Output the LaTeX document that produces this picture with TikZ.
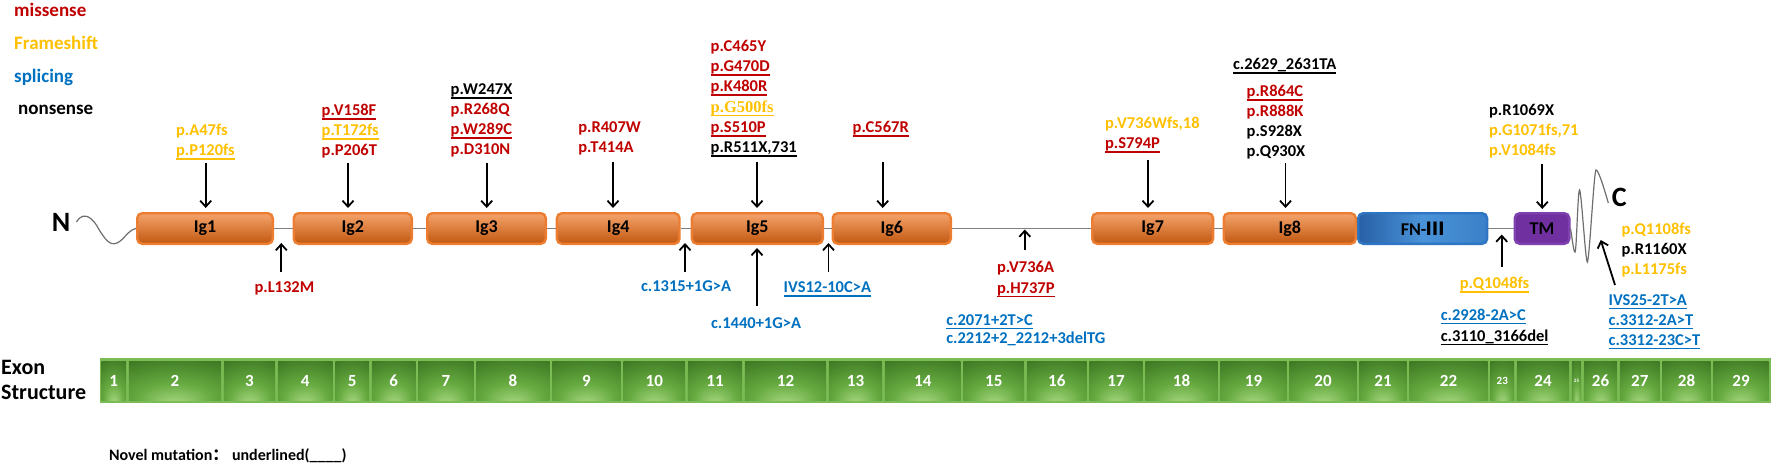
\documentclass[tikz,border=0pt]{standalone}
\usepackage{fontspec}
\setmainfont{Carlito}
\newfontfamily\tnr{Liberation Serif}
\newfontfamily\cjk{Noto Sans CJK SC}
\usetikzlibrary{arrows.meta}
\definecolor{mred}{HTML}{C00000}
\definecolor{myel}{HTML}{FFC000}
\definecolor{mblu}{HTML}{0070C0}
\definecolor{orL}{HTML}{F4A46C}
\definecolor{orD}{HTML}{C2570F}
\definecolor{orB}{HTML}{ED7D31}
\definecolor{fnL}{HTML}{2860A6}
\definecolor{fnM}{HTML}{4A93D8}
\definecolor{fnR}{HTML}{3A80C8}
\definecolor{fnB}{HTML}{2E75C4}
\definecolor{tmF}{HTML}{7030A0}
\definecolor{tmB}{HTML}{7F40B0}
\definecolor{exL}{HTML}{A8D882}
\definecolor{exM}{HTML}{66AA40}
\definecolor{exD}{HTML}{3A7420}
\definecolor{exO}{HTML}{7CBC55}
\definecolor{lnk}{HTML}{808080}
\definecolor{wav}{HTML}{6E6E6E}
\pgfdeclareradialshading{exshade}{\pgfpoint{0bp}{-30bp}}{color(0bp)=(exL); color(20bp)=(exM); color(48bp)=(exD); color(80bp)=(exD)}
\newcommand\myul[1]{\setbox0\hbox{#1}\rlap{\raisebox{-4.3pt}{\rule{\wd0}{1.4pt}}}\box0}
\newcommand\lf{\fontsize{16.5}{20}\selectfont\bfseries}
\newcommand\boxf{\fontsize{18}{20}\selectfont\bfseries}
\begin{document}
\begin{tikzpicture}[x=1pt,y=-1pt,
  lab/.style={anchor=base west, inner sep=0pt, outer sep=0pt, font=\lf},
  leg/.style={anchor=base west, inner sep=0pt, font=\fontsize{19}{22}\selectfont\bfseries},
  big/.style={anchor=base west, inner sep=0pt, font=\fontsize{28}{30}\selectfont\bfseries},
  exlab/.style={anchor=base west, inner sep=0pt, font=\fontsize{22}{24}\selectfont\bfseries},
  igbox/.style={rectangle, rounded corners=5pt, draw=orB, line width=2.4pt, top color=orL, bottom color=orD, minimum height=30.6pt, inner sep=0pt, font=\boxf},
  arr/.style={line width=1.8pt, -{Straight Barb[length=6pt,width=11pt]}},
  lnkline/.style={draw=lnk, line width=1.6pt},
  wave/.style={draw=wav, line width=1.2pt},
  exon/.style={rectangle, inner sep=0pt, shade, shading=exshade, minimum height=38.5pt, text=white}
]
\useasboundingbox (0,0) rectangle (1772,464);

% legend
\node[leg, text=mred] (lg1) at (14,16.5) {missense};
\node[leg, text=myel] (lg2) at (14,49) {Frameshift};
\node[leg, text=mblu] (lg3) at (14,82) {splicing};
\node[leg, text=black] (lg4) at (18,114.5) {nonsense};

% domains
\node[igbox, minimum width=135.6pt] (ig1) at (205,228.5) {Ig1};
\node[igbox, minimum width=118.1pt] (ig2) at (352.75,228.5) {Ig2};
\node[igbox, minimum width=118.6pt] (ig3) at (486.5,228.5) {Ig3};
\node[igbox, minimum width=122.6pt] (ig4) at (618.2,228.5) {Ig4};
\node[igbox, minimum width=130.9pt] (ig5) at (757.35,228.5) {Ig5};
\node[igbox, minimum width=118.1pt] (ig6) at (891.75,228.5) {Ig6};
\node[igbox, minimum width=120.9pt] (ig7) at (1152.65,228.5) {Ig7};
\node[igbox, minimum width=132.1pt] (ig8) at (1289.75,228.5) {Ig8};
\node[rectangle, rounded corners=5pt, draw=fnB, line width=2.4pt, left color=fnL, right color=fnR, middle color=fnM, minimum width=128.9pt, minimum height=30.6pt, inner sep=0pt, font=\boxf] (fn) at (1422.65,228.5) {FN-{\cjk\bfseries Ⅲ}};
\node[rectangle, rounded corners=5pt, draw=tmB, fill=tmF, line width=2.4pt, minimum width=54.6pt, minimum height=30.6pt, inner sep=0pt, font=\boxf] (tm) at (1542,228.5) {TM};

% linkers
\draw[lnkline] (ig1.east) -- (ig2.west);
\draw[lnkline] (ig2.east) -- (ig3.west);
\draw[lnkline] (ig3.east) -- (ig4.west);
\draw[lnkline] (ig4.east) -- (ig5.west);
\draw[lnkline] (ig5.east) -- (ig6.west);
\draw[lnkline] (ig6.east) -- (ig7.west);
\draw[lnkline] (ig7.east) -- (ig8.west);
\draw[lnkline] (fn.east) -- (tm.west);

% termini
\node[big] (nterm) at (51.7,231) {N};
\node[big] (cterm) at (1611.7,206.7) {C};
\coordinate (nw) at (76.5,222);
\draw[wave] (nw) .. controls (81,214) and (89,213) .. (97,226) .. controls (105,240) and (110,246) .. (117,243) .. controls (124,240) and (128,230) .. (ig1.west);
\draw[wave] (tm.east) .. controls (1572.5,240) and (1573.5,252) .. (1575,252) .. controls (1576.5,252) and (1577.8,190) .. (1579.5,190) .. controls (1581.3,190) and (1585.5,262) .. (1587.3,262) .. controls (1589.3,262) and (1594,170) .. (1596,170) .. controls (1598.5,170) and (1604,188) .. (1608.3,203);

% top arrows
\coordinate (t1) at (205.7,163);
\coordinate (t2) at (348,163);
\coordinate (t3) at (486.7,163);
\coordinate (t4) at (613,162);
\coordinate (t5) at (757,162);
\coordinate (t6) at (882.7,162);
\coordinate (t7) at (1148,160);
\coordinate (t8) at (1285.5,163);
\coordinate (t9) at (1542.3,164);
\draw[arr, shorten >=4pt] (t1) -- (t1 |- ig1.north);
\draw[arr, shorten >=4pt] (t2) -- (t2 |- ig2.north);
\draw[arr, shorten >=4pt] (t3) -- (t3 |- ig3.north);
\draw[arr, shorten >=4pt] (t4) -- (t4 |- ig4.north);
\draw[arr, shorten >=4pt] (t5) -- (t5 |- ig5.north);
\draw[arr, shorten >=4pt] (t6) -- (t6 |- ig6.north);
\draw[arr, shorten >=4pt] (t7) -- (t7 |- ig7.north);
\draw[arr, shorten >=4pt] (t8) -- (t8 |- ig8.north);
\draw[arr, shorten >=3pt] (t9) -- (t9 |- tm.north);

% bottom arrows
\coordinate (b1) at (281.3,272);
\coordinate (b2) at (685,272);
\coordinate (b3) at (828.5,272);
\coordinate (b4) at (757,306);
\coordinate (b5) at (1024.8,250);
\coordinate (b6) at (1501.7,267);
\coordinate (b7) at (1615,285);
\coordinate (ct) at (1600.7,240);
\draw[arr, shorten >=-2pt] (b1) -- (b1 |- ig1.south);
\draw[arr, shorten >=-2pt] (b2) -- (b2 |- ig4.south);
\draw[arr, shorten >=-2pt] (b3) -- (b3 |- ig5.south);
\draw[arr, shorten >=3pt] (b4) -- (b4 |- ig5.south);
\draw[arr, shorten >=1pt] (b5) -- (b5 |- ig6.center);
\draw[arr, shorten >=6pt] (b6) -- (b6 |- tm.center);
\draw[arr] (b7) -- (ct);

% labels above
\node[lab, text=myel] (l1a) at (176,135.5) {p.A47fs};
\node[lab, text=myel] (l1b) at (176,155.5) {\myul{p.P120fs}};
\node[lab, text=mred] (l2a) at (321.7,115.5) {\myul{p.V158F}};
\node[lab, text=myel] (l2b) at (321.7,135.5) {\myul{p.T172fs}};
\node[lab, text=mred] (l2c) at (321.7,155.5) {p.P206T};
\node[lab, text=black] (l3a) at (450.7,94.5) {\myul{p.W247X}};
\node[lab, text=mred] (l3b) at (450.7,114.5) {p.R268Q};
\node[lab, text=mred] (l3c) at (450.7,134.5) {\myul{p.W289C}};
\node[lab, text=mred] (l3d) at (450.7,154.5) {p.D310N};
\node[lab, text=mred] (l4a) at (578.3,132.5) {p.R407W};
\node[lab, text=mred] (l4b) at (578.3,152.5) {p.T414A};
\node[lab, text=mred] (l5a) at (710.7,51.5) {p.C465Y};
\node[lab, text=mred] (l5b) at (710.7,71.5) {\myul{p.G470D}};
\node[lab, text=mred] (l5c) at (710.7,91.5) {\myul{p.K480R}};
\node[lab, text=myel] (l5d) at (710.7,112) {\myul{\tnr\bfseries p.G500fs}};
\node[lab, text=mred] (l5e) at (710.7,132.5) {\myul{p.S510P}};
\node[lab, text=black] (l5f) at (710.7,152.5) {\myul{p.R511X,731}};
\node[lab, text=mred] (l6a) at (852.7,132.5) {\myul{p.C567R}};
\node[lab, text=myel] (l7a) at (1105,128.5) {p.V736Wfs,18};
\node[lab, text=mred] (l7b) at (1105,148.5) {\myul{p.S794P}};
\node[lab, text=black] (l8a) at (1233,69.5) {\myul{c.2629\_2631TA}};
\node[lab, text=mred] (l8b) at (1246.7,96.5) {\myul{p.R864C}};
\node[lab, text=mred] (l8c) at (1246.7,116.5) {p.R888K};
\node[lab, text=black] (l8d) at (1246.7,136.5) {p.S928X};
\node[lab, text=black] (l8e) at (1246.7,156.5) {p.Q930X};
\node[lab, text=black] (l9a) at (1489,115.5) {p.R1069X};
\node[lab, text=myel] (l9b) at (1489,135.5) {p.G1071fs,71};
\node[lab, text=myel] (l9c) at (1489,155.5) {p.V1084fs};

% labels below
\node[lab, text=mred] (m1) at (254.5,292) {p.L132M};
\node[lab, text=mblu] (m2) at (641,291) {c.1315+1G>A};
\node[lab, text=mblu] (m3) at (783.7,292.5) {\myul{IVS12-10C>A}};
\node[lab, text=mblu] (m4) at (711,328.5) {c.1440+1G>A};
\node[lab, text=mred] (m5a) at (997,272.5) {p.V736A};
\node[lab, text=mred] (m5b) at (997,293) {\myul{p.H737P}};
\node[lab, text=mblu] (m5c) at (946.3,325) {\myul{c.2071+2T>C}};
\node[lab, text=mblu] (m5d) at (946.3,343) {c.2212+2\_2212+3delTG};
\node[lab, text=myel] (m6a) at (1459.8,288.5) {\myul{p.Q1048fs}};
\node[lab, text=mblu] (m6b) at (1440.8,320) {\myul{c.2928-2A>C}};
\node[lab, text=black] (m6c) at (1440.8,341) {\myul{c.3110\_3166del}};
\node[lab, text=myel] (m7a) at (1621.5,234) {p.Q1108fs};
\node[lab, text=black] (m7b) at (1621.5,254) {p.R1160X};
\node[lab, text=myel] (m7c) at (1621.5,274) {p.L1175fs};
\node[lab, text=mblu] (m7d) at (1608.6,305) {\myul{IVS25-2T>A}};
\node[lab, text=mblu] (m7e) at (1608.6,325) {\myul{c.3312-2A>T}};
\node[lab, text=mblu] (m7f) at (1608.6,345) {\myul{c.3312-23C>T}};

% exon structure
\node[exlab] (exa) at (1,374.5) {Exon};
\node[exlab] (exb) at (1,399.5) {Structure};
\node[rectangle, fill=exO, minimum width=1671pt, minimum height=45pt, inner sep=0pt] (bar) at (935,380.8) {};
\foreach \n/\a/\b/\s in {1/100/127.5/17, 2/127.5/222.5/17, 3/222.5/276.5/17, 4/276.5/334/17, 5/334/370.5/17, 6/370.5/417/17, 7/417/475/17, 8/475/551/17, 9/551/622/17, 10/622/686.5/17, 11/686.5/743.5/17, 12/743.5/827.5/17, 13/827.5/883.5/17, 14/883.5/962/17, 15/962/1025.5/17, 16/1025.5/1088/17, 17/1088/1144/17, 18/1144/1219/17, 19/1219/1288/17, 20/1288/1358/17, 21/1358/1408/17, 22/1408/1489/17, 23/1489/1515.5/11, 24/1515.5/1570.5/17, 25/1570.5/1582.5/5, 26/1582.5/1618.5/17, 27/1618.5/1661/17, 28/1661/1712/17, 29/1712/1770/17}
  \node[exon, minimum width={\b-\a-2.6}, font=\fontsize{\s}{\s}\selectfont\bfseries] (ex\n) at ({(\a+\b)/2},381) {\n};

\node[lab, font=\fontsize{16}{18}\selectfont\bfseries] (novel) at (109,460.5) {Novel mutation{\cjk\bfseries ：}\ underlined(\_\_\_\_)};
\end{tikzpicture}
\end{document}
